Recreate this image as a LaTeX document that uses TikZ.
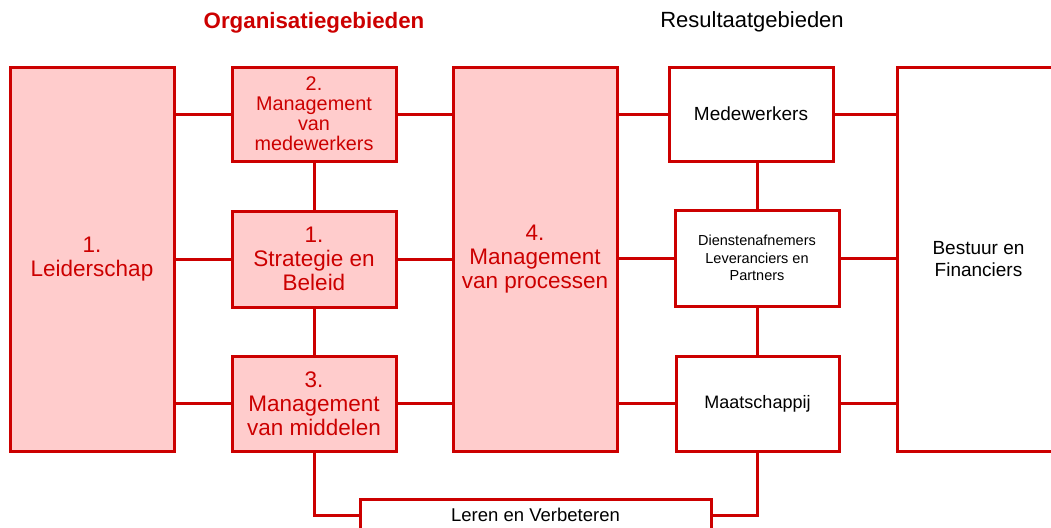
\documentclass[tikz,border=0pt]{standalone}
\usepackage{fontspec}
\setmainfont{Liberation Sans}
\definecolor{rline}{HTML}{CC0000}
\definecolor{rfill}{HTML}{FFCCCC}
\begin{document}
\begin{tikzpicture}[x=1pt,y=-1pt,
  box/.style={draw=rline,line width=3pt,inner sep=0pt,align=center,anchor=center},
  orgbox/.style={box,fill=rfill,text=rline,font={\fontsize{22.5}{24}\selectfont}},
  resbox/.style={box,fill=white,text=black,font={\fontsize{19}{22}\selectfont}},
  conn/.style={draw=rline,line width=3pt}]
\useasboundingbox (0,0) rectangle (1051,527);
% titles
\node[text=rline,font={\fontsize{22.3}{24}\selectfont\bfseries}] (torg) at (314,23) {Organisatiegebieden};
\node[text=black,font={\fontsize{22}{24}\selectfont}] (tres) at (752,22) {Resultaatgebieden};
% organisation boxes
\node[orgbox,minimum width=164pt,minimum height=384pt] (lead) at (92,259) {1.\\Leiderschap};
\node[orgbox,minimum width=164pt,minimum height=94pt,font={\fontsize{19.8}{20}\selectfont}] (b2) at (314,114) {2.\\Management\\van\\medewerkers};
\node[orgbox,minimum width=164pt,minimum height=96pt] (b1) at (314,259) {1.\\Strategie en\\Beleid};
\node[orgbox,minimum width=164pt,minimum height=95pt] (b3) at (314,403.5) {3.\\Management\\van middelen};
\node[orgbox,minimum width=164pt,minimum height=384pt] (b4) at (535,259) {4.\\Management\\van processen};
% result boxes
\node[resbox,minimum width=164pt,minimum height=94pt] (med) at (751,114) {Medewerkers};
\node[resbox,minimum width=164pt,minimum height=96pt,font={\fontsize{14.5}{17.5}\selectfont}] (dien) at (757,258) {Dienstenafnemers\\Leveranciers en\\Partners};
\node[resbox,minimum width=163pt,minimum height=95pt,font={\fontsize{18}{22}\selectfont}] (maat) at (757.5,403.5) {Maatschappij};
\node[resbox,minimum width=163pt,minimum height=384pt] (best) at (978.5,259) {Bestuur en\\Financiers};
\node[resbox,minimum width=351pt,minimum height=32pt,font={\fontsize{18.5}{22}\selectfont}] (leren) at (535.5,515) {Leren en Verbeteren};
% connectors
\draw[conn] (b2.west -| lead.east) -- (b2.west);
\draw[conn] (b1.west -| lead.east) -- (b1.west);
\draw[conn] (b3.west -| lead.east) -- (b3.west);
\draw[conn] (b2.east) -- (b2.east -| b4.west);
\draw[conn] (b1.east) -- (b1.east -| b4.west);
\draw[conn] (b3.east) -- (b3.east -| b4.west);
\draw[conn] (b2.south) -- (b1.north);
\draw[conn] (b1.south) -- (b3.north);
\draw[conn] (med.west -| b4.east) -- (med.west);
\draw[conn] (dien.west -| b4.east) -- (dien.west);
\draw[conn] (maat.west -| b4.east) -- (maat.west);
\draw[conn] (med.east) -- (med.east -| best.west);
\draw[conn] (dien.east) -- (dien.east -| best.west);
\draw[conn] (maat.east) -- (maat.east -| best.west);
\draw[conn] (dien.north |- med.south) -- (dien.north);
\draw[conn] (dien.south) -- (dien.south |- maat.north);
\draw[conn] (b3.south) -- (b3.south |- leren.west) -- (leren.west);
\draw[conn] (maat.south) -- (maat.south |- leren.east) -- (leren.east);
\end{tikzpicture}
\end{document}
